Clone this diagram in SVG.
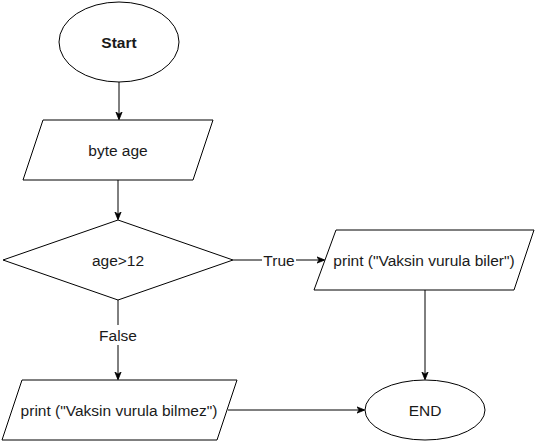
<svg xmlns="http://www.w3.org/2000/svg" width="535" height="441" viewBox="0 0 535 441">
<defs>
<style>
.s{fill:#fff;stroke:#000;stroke-width:1}
.t{font-family:"Liberation Sans",Arial,sans-serif;font-size:15.5px;fill:#1a1a1a;text-anchor:middle;dominant-baseline:central}
.e{fill:none;stroke:#000;stroke-width:1}
</style>
<marker id="a" viewBox="0 0 10 10" refX="9" refY="5" markerWidth="8" markerHeight="8" markerUnits="userSpaceOnUse" orient="auto">
<path d="M0,1 L10,5 L0,9 L3,5 Z" fill="#000" stroke="#000"/>
</marker>
</defs>
<rect width="535" height="441" fill="#fff"/>
<g id="edges">
<path class="e" d="M119,82 V119" marker-end="url(#a)"/>
<path class="e" d="M118,180 V219" marker-end="url(#a)"/>
<path class="e" d="M233,260 H324" marker-end="url(#a)"/>
<path class="e" d="M118,300 V379" marker-end="url(#a)"/>
<path class="e" d="M425,290 V379" marker-end="url(#a)"/>
<path class="e" d="M228,410 H364" marker-end="url(#a)"/>
<rect x="262" y="250" width="34" height="20" fill="#fff"/>
<text class="t" x="279" y="260">True</text>
<rect x="98" y="325" width="40" height="20" fill="#fff"/>
<text class="t" x="118" y="335">False</text>
</g>
<g id="start">
<ellipse class="s" cx="119" cy="42" rx="60" ry="40"/>
<text class="t" x="119" y="42" font-weight="bold" font-size="15px">Start</text>
</g>
<g id="byteage">
<path class="s" d="M43,120 H213 L193,180 H23 Z"/>
<text class="t" x="118" y="150">byte age</text>
</g>
<g id="decision">
<path class="s" d="M118,220 L233,260 L118,300 L3,260 Z"/>
<text class="t" x="118" y="260">age&gt;12</text>
</g>
<g id="printTrue">
<path class="s" d="M336,230 H534 L514,290 H314 Z"/>
<text class="t" x="424" y="260">print ("Vaksin vurula biler")</text>
</g>
<g id="printFalse">
<path class="s" d="M22,380 H237 L217,440 H2 Z"/>
<text class="t" x="119" y="410">print ("Vaksin vurula bilmez")</text>
</g>
<g id="end">
<ellipse class="s" cx="425" cy="410" rx="60" ry="30"/>
<text class="t" x="425" y="410">END</text>
</g>
</svg>
